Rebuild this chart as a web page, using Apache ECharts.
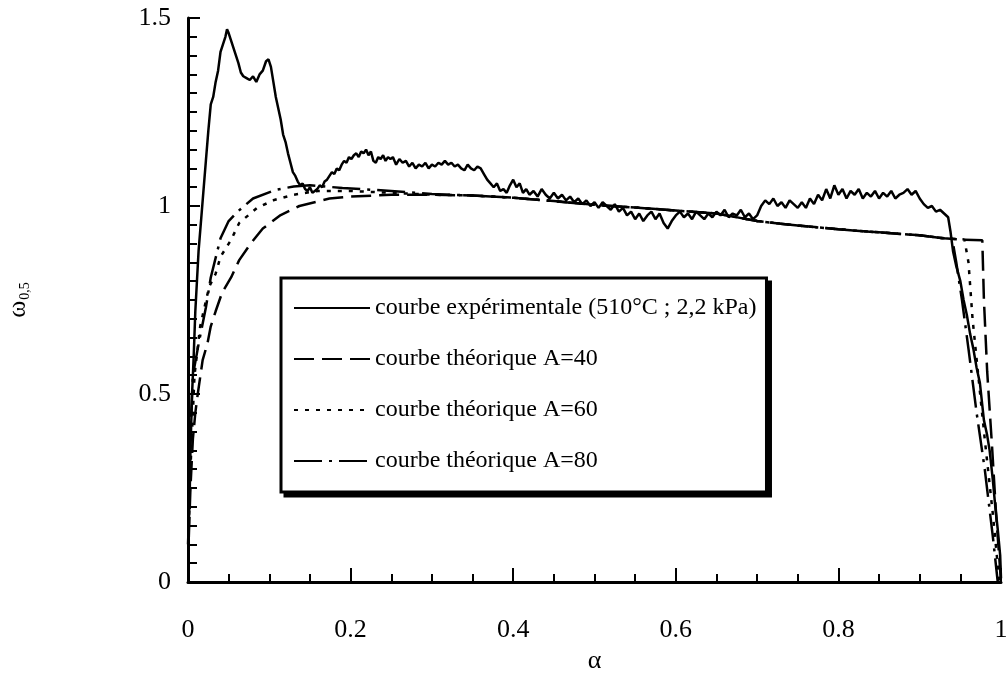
<!DOCTYPE html>
<html>
<head>
<meta charset="utf-8">
<title>omega 0,5</title>
<script src="https://cdn.jsdelivr.net/npm/echarts@6/dist/echarts.min.js"></script>
<style>
  html, body { margin: 0; padding: 0; background: #fff; }
  #main { width: 1006px; height: 675px; }
</style>
</head>
<body>
<div id="main"></div>
<script>
// tick labels
const xTicks = [0, 0.2, 0.4, 0.6, 0.8, 1];
const yTicks = [0, 0.5, 1, 1.5];

const seriesNames = [
  "courbe expérimentale (510°C ; 2,2 kPa)",
  "courbe théorique A=40",
  "courbe théorique A=60",
  "courbe théorique A=80",
];

const expAlpha = [
  0.000, 0.002, 0.003, 0.005, 0.007, 0.009, 0.011, 0.013, 0.016, 0.019,
  0.022, 0.025, 0.028, 0.031, 0.034, 0.037, 0.040, 0.043, 0.046, 0.048,
  0.050, 0.053, 0.056, 0.059, 0.062, 0.065, 0.068, 0.072, 0.076, 0.080,
  0.084, 0.088, 0.092, 0.096, 0.099, 0.102, 0.105, 0.108, 0.111, 0.114,
  0.117, 0.120, 0.123, 0.126, 0.129, 0.132, 0.135, 0.138, 0.141, 0.144,
  0.147, 0.150, 0.153, 0.156, 0.159, 0.162, 0.165, 0.168, 0.171, 0.174,
  0.177, 0.180, 0.183, 0.186, 0.189, 0.192, 0.195, 0.198, 0.201, 0.204,
  0.207, 0.210, 0.213, 0.216, 0.219, 0.222, 0.225, 0.228, 0.231, 0.234,
  0.237, 0.240, 0.243, 0.246, 0.249, 0.252, 0.256, 0.260, 0.264, 0.268,
  0.272, 0.276, 0.280, 0.284, 0.288, 0.292, 0.296, 0.300, 0.304, 0.308,
  0.312, 0.316, 0.320, 0.324, 0.328, 0.332, 0.336, 0.340, 0.344, 0.348,
  0.352, 0.356, 0.360, 0.364, 0.368, 0.372, 0.376, 0.380, 0.384, 0.388,
  0.392, 0.396, 0.400, 0.404, 0.408, 0.412, 0.416, 0.420, 0.425, 0.430,
  0.435, 0.440, 0.445, 0.450, 0.455, 0.460, 0.465, 0.470, 0.475, 0.480,
  0.485, 0.490, 0.495, 0.500, 0.505, 0.510, 0.515, 0.520, 0.525, 0.530,
  0.535, 0.540, 0.545, 0.550, 0.555, 0.560, 0.565, 0.570, 0.575, 0.580,
  0.585, 0.590, 0.595, 0.600, 0.605, 0.610, 0.615, 0.620, 0.625, 0.630,
  0.635, 0.640, 0.645, 0.650, 0.655, 0.660, 0.665, 0.670, 0.675, 0.680,
  0.685, 0.690, 0.695, 0.700, 0.705, 0.710, 0.715, 0.720, 0.725, 0.730,
  0.735, 0.740, 0.745, 0.750, 0.755, 0.760, 0.765, 0.770, 0.775, 0.780,
  0.785, 0.790, 0.795, 0.800, 0.805, 0.810, 0.815, 0.820, 0.825, 0.830,
  0.835, 0.840, 0.845, 0.850, 0.855, 0.860, 0.865, 0.870, 0.875, 0.880,
  0.885, 0.890, 0.895, 0.900, 0.905, 0.910, 0.915, 0.920, 0.925, 0.930,
  0.935, 0.938, 0.941, 0.945, 0.950, 0.954, 0.958, 0.962, 0.966, 0.970,
  0.974, 0.977, 0.979, 0.983, 0.986, 0.990, 0.993, 0.996, 0.999, 1.000,
];
const expOmega = [
  0.10, 0.22, 0.35, 0.50, 0.60, 0.72, 0.80, 0.88, 0.96, 1.04,
  1.12, 1.20, 1.27, 1.29, 1.33, 1.36, 1.41, 1.43, 1.45, 1.47,
  1.46, 1.44, 1.42, 1.40, 1.38, 1.355, 1.345, 1.34, 1.335, 1.345,
  1.33, 1.35, 1.36, 1.385, 1.39, 1.37, 1.33, 1.29, 1.26, 1.23,
  1.19, 1.17, 1.14, 1.115, 1.09, 1.08, 1.065, 1.055, 1.06, 1.045,
  1.04, 1.05, 1.035, 1.04, 1.045, 1.055, 1.05, 1.065, 1.07, 1.08,
  1.09, 1.085, 1.10, 1.095, 1.11, 1.12, 1.115, 1.13, 1.125, 1.135,
  1.14, 1.13, 1.145, 1.14, 1.15, 1.135, 1.145, 1.12, 1.115, 1.13,
  1.125, 1.135, 1.12, 1.13, 1.125, 1.13, 1.11, 1.125, 1.115, 1.12,
  1.105, 1.115, 1.10, 1.11, 1.105, 1.115, 1.10, 1.11, 1.105, 1.115,
  1.11, 1.12, 1.11, 1.115, 1.105, 1.11, 1.10, 1.095, 1.11, 1.10,
  1.095, 1.105, 1.10, 1.085, 1.07, 1.06, 1.05, 1.06, 1.04, 1.045,
  1.035, 1.055, 1.07, 1.05, 1.06, 1.035, 1.045, 1.03, 1.04, 1.025,
  1.045, 1.03, 1.02, 1.035, 1.02, 1.03, 1.015, 1.025, 1.01, 1.02,
  1.005, 1.015, 1.00, 1.01, 0.995, 1.01, 1.00, 0.99, 1.005, 0.985,
  0.995, 0.975, 0.985, 0.965, 0.98, 0.96, 0.975, 0.985, 0.965, 0.98,
  0.955, 0.94, 0.96, 0.975, 0.985, 0.97, 0.98, 0.965, 0.985, 0.975,
  0.965, 0.98, 0.97, 0.985, 0.975, 0.99, 0.97, 0.98, 0.975, 0.99,
  0.97, 0.98, 0.965, 0.975, 1.00, 1.015, 1.005, 1.02, 1.00, 1.01,
  0.995, 1.015, 1.005, 0.995, 1.01, 0.995, 1.02, 1.005, 1.03, 1.015,
  1.045, 1.02, 1.055, 1.03, 1.045, 1.02, 1.04, 1.03, 1.045, 1.02,
  1.035, 1.025, 1.04, 1.02, 1.035, 1.025, 1.04, 1.02, 1.03, 1.035,
  1.045, 1.03, 1.04, 1.02, 1.005, 0.995, 1.00, 0.985, 0.99, 0.98,
  0.97, 0.93, 0.88, 0.84, 0.80, 0.75, 0.71, 0.66, 0.62, 0.57,
  0.53, 0.47, 0.43, 0.39, 0.35, 0.27, 0.20, 0.14, 0.07, 0.01,
];

// theoretical curves
const a40Alpha = [0.001, 0.003, 0.006, 0.009, 0.012, 0.018, 0.024, 0.028, 0.034, 0.042,
  0.053, 0.063, 0.077, 0.092, 0.114, 0.137, 0.174, 0.200, 0.250, 0.300,
  0.350, 0.400, 0.450, 0.500, 0.550, 0.600, 0.650, 0.700, 0.750, 0.800,
  0.850, 0.900, 0.930, 0.955, 0.977, 0.979, 0.983, 0.989, 0.994, 1.000];
const a40Omega = [0.12, 0.25, 0.38, 0.45, 0.50, 0.59, 0.635, 0.68, 0.72, 0.77,
  0.81, 0.856, 0.90, 0.94, 0.976, 1.00, 1.02, 1.025, 1.03, 1.03,
  1.028, 1.022, 1.013, 1.003, 0.996, 0.988, 0.98, 0.96, 0.948, 0.938,
  0.93, 0.922, 0.914, 0.91, 0.909, 0.75, 0.56, 0.36, 0.18, 0.00];

const a60Alpha = [0.001, 0.003, 0.008, 0.015, 0.026, 0.034, 0.040, 0.053, 0.063, 0.085,
  0.106, 0.130, 0.160, 0.200, 0.250, 0.300, 0.350, 0.400, 0.450, 0.500,
  0.550, 0.600, 0.650, 0.700, 0.750, 0.800, 0.850, 0.900, 0.930, 0.955,
  0.960, 0.965, 0.972, 0.980, 0.990, 0.998];
const a60Omega = [0.15, 0.30, 0.55, 0.68, 0.785, 0.82, 0.865, 0.91, 0.955, 0.995,
  1.016, 1.03, 1.04, 1.04, 1.035, 1.03, 1.028, 1.022, 1.013, 1.003,
  0.996, 0.988, 0.98, 0.96, 0.948, 0.938, 0.93, 0.922, 0.914, 0.911,
  0.85, 0.70, 0.55, 0.38, 0.18, 0.00];

const a80Alpha = [0.001, 0.002, 0.006, 0.014, 0.022, 0.028, 0.040, 0.050, 0.061, 0.080,
  0.108, 0.130, 0.150, 0.190, 0.250, 0.300, 0.350, 0.400, 0.450, 0.500,
  0.550, 0.600, 0.650, 0.700, 0.750, 0.800, 0.850, 0.900, 0.930, 0.940,
  0.945, 0.952, 0.960, 0.970, 0.980, 0.990, 0.996];
const a80Omega = [0.20, 0.35, 0.55, 0.644, 0.73, 0.81, 0.914, 0.96, 0.985, 1.02,
  1.043, 1.052, 1.055, 1.048, 1.04, 1.032, 1.028, 1.022, 1.013, 1.003,
  0.996, 0.988, 0.98, 0.96, 0.948, 0.938, 0.93, 0.922, 0.914, 0.913,
  0.85, 0.75, 0.62, 0.45, 0.30, 0.12, 0.00];

const zip = (xs, ys) => xs.map((x, i) => [x, ys[i]]);

const FONT = "Liberation Serif";
const myChart = echarts.init(document.getElementById("main"));

const lineSeries = (name, xs, ys, type) => ({
  name: name,
  type: "line",
  data: zip(xs, ys),
  symbol: "none",
  smooth: false,
  lineStyle: { color: "#000", width: 2.5, type: type },
  itemStyle: { color: "#000" },
  z: 3,
});

// same legend twice: the back one is a solid black copy, offset, as the drop shadow
const legendBox = (left, top, z, bg) => ({
  orient: "vertical",
  left: left,
  top: top,
  z: z,
  data: seriesNames,
  itemWidth: 76,
  itemHeight: 14,
  itemGap: 27,
  padding: [18, 10, 19, 12],
  backgroundColor: bg,
  borderColor: "#000",
  borderWidth: 3,
  borderRadius: 0,
  inactiveColor: "#000",
  itemStyle: { color: "rgba(0,0,0,0)", borderWidth: 0, opacity: 0 },
  textStyle: { fontFamily: FONT, fontSize: 24, color: "#000", lineHeight: 24 },
  selectedMode: false,
});

const option = {
  backgroundColor: "#fff",
  animation: false,
  grid: { left: 188, right: 5, top: 18, bottom: 93, outerBoundsMode: "none", containLabel: false },
  xAxis: {
    type: "value",
    min: 0,
    max: 1,
    interval: 0.2,
    name: "α",
    nameLocation: "middle",
    nameGap: 66,
    nameTextStyle: { fontFamily: FONT, fontSize: 26, color: "#000" },
    axisLine: { onZero: false, lineStyle: { color: "#000", width: 3 } },
    axisTick: { inside: true, length: 14, lineStyle: { color: "#000", width: 2 } },
    minorTick: { show: true, splitNumber: 4, length: 8, lineStyle: { color: "#000", width: 2 } },
    splitLine: { show: false },
    axisLabel: {
      margin: 35,
      fontFamily: FONT,
      fontSize: 26,
      color: "#000",
      formatter: (v) => (xTicks.includes(+v.toFixed(1)) ? String(+v.toFixed(1)) : ""),
    },
  },
  yAxis: {
    type: "value",
    min: 0,
    max: 1.5,
    interval: 0.5,
    name: "{w|ω}{s|0,5}",
    nameLocation: "middle",
    nameGap: 156,
    nameTextStyle: {
      color: "#000",
      rich: {
        w: { fontFamily: FONT, fontSize: 26, color: "#000" },
        s: { fontFamily: FONT, fontSize: 14, color: "#000", padding: [14, 0, 0, 1] },
      },
    },
    axisLine: { onZero: false, lineStyle: { color: "#000", width: 3 } },
    axisTick: { inside: true, length: 12, lineStyle: { color: "#000", width: 2 } },
    minorTick: { show: true, splitNumber: 10, length: 9, lineStyle: { color: "#000", width: 2 } },
    splitLine: { show: false },
    axisLabel: {
      margin: 17,
      fontFamily: FONT,
      fontSize: 26,
      color: "#000",
      formatter: (v) => (yTicks.includes(+v.toFixed(1)) ? String(+v.toFixed(1)) : ""),
    },
  },
  legend: [
    legendBox(285, 282, 4, "#000"),
    legendBox(281, 278, 5, "#fff"),
  ],
  series: [
    lineSeries(seriesNames[0], expAlpha, expOmega, "solid"),
    lineSeries(seriesNames[1], a40Alpha, a40Omega, [20, 8]),
    lineSeries(seriesNames[2], a60Alpha, a60Omega, [4, 7]),
    lineSeries(seriesNames[3], a80Alpha, a80Omega, [28, 7, 3, 7]),
  ],
};

option && myChart.setOption(option);
</script>
</body>
</html>
